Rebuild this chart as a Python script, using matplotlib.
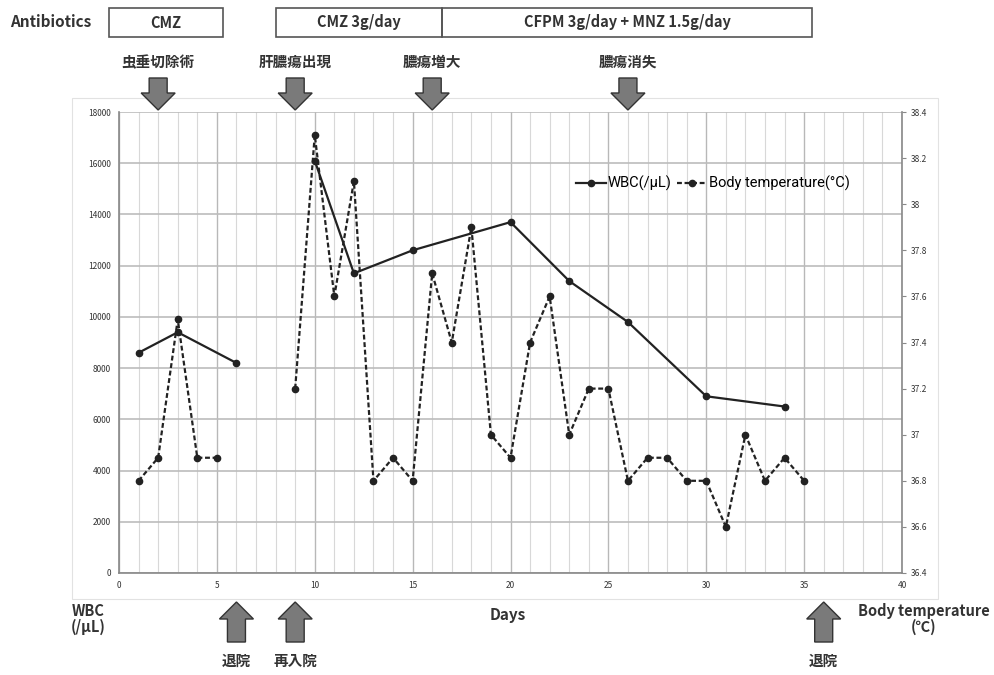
import numpy as np
import matplotlib.pyplot as plt
from matplotlib.patches import Rectangle, Polygon

plt.rcParams['font.family'] = ['Noto Sans CJK JP', 'DejaVu Sans']

# データ (NaN = 測定なし、線を切る)
wbc_days = [1, 3, 6, 8, 10, 12, 15, 20, 23, 26, 30, 34]
wbc = [8600, 9400, 8200, np.nan, 16100, 11700, 12600, 13700, 11400, 9800, 6900, 6500]

bt_days = list(range(1, 36))
bt = [36.8, 36.9, 37.5, 36.9, 36.9, np.nan, np.nan, np.nan, 37.2, 38.3,
      37.6, 38.1, 36.8, 36.9, 36.8, 37.7, 37.4, 37.9, 37.0, 36.9,
      37.4, 37.6, 37.0, 37.2, 37.2, 36.8, 36.9, 36.9, 36.8, 36.8,
      36.6, 37.0, 36.8, 36.9, 36.8]

antibiotics = ['CMZ', 'CMZ 3g/day', 'CFPM 3g/day + MNZ 1.5g/day']
ab_start = [-0.5, 8.0, 16.5]
ab_end = [5.3, 16.5, 35.4]

top_events = ['虫垂切除術', '肝膿瘍出現', '膿瘍増大', '膿瘍消失']
top_days = [2, 9, 16, 26]
bottom_events = ['退院', '再入院', '退院']
bottom_days = [6, 9, 36]

W, H = 995, 675
fig = plt.figure(figsize=(W / 100, H / 100), dpi=100)

# 外枠 (Excel風のチャート枠)
frame = fig.add_axes([0, 0, 1, 1], zorder=-5)
frame.set_xlim(0, W)
frame.set_ylim(H, 0)
frame.axis('off')
frame.add_patch(Rectangle((72, 98), 866, 501, fill=False, ec='#e2e2e2', lw=0.8))

ax = fig.add_axes([119 / W, 1 - 573 / H, (902 - 119) / W, (573 - 112) / H])
ax2 = ax.twinx()

ax.set_xlim(0, 40)
ax.set_ylim(0, 18000)
ax.set_xticks(range(0, 41, 5))
ax.set_xticks(range(0, 41), minor=True)
ax.set_yticks(range(0, 18001, 2000))
ax.grid(which='major', axis='y', color='#bcbcbc', lw=1.2)
ax.grid(which='major', axis='x', color='#b8b8b8', lw=1.0)
ax.grid(which='minor', axis='x', color='#d8d8d8', lw=0.8)
ax.tick_params(which='both', length=0, labelsize=6, labelcolor='#333333', pad=6)
for s in ['top', 'right']:
    ax.spines[s].set_visible(False)
for s in ['left', 'bottom']:
    ax.spines[s].set_color('#888888')
    ax.spines[s].set_linewidth(1.2)

bt_ticks = np.round(np.arange(36.4, 38.41, 0.2), 1)
ax2.set_ylim(36.4, 38.4)
ax2.set_yticks(bt_ticks)
ax2.set_yticklabels([f'{v:g}' for v in bt_ticks])
ax2.tick_params(axis='y', length=3, color='#888888', labelsize=6, labelcolor='#333333', pad=3)
for s in ['top', 'left', 'bottom']:
    ax2.spines[s].set_visible(False)
ax2.spines['right'].set_color('#888888')
ax2.spines['right'].set_linewidth(1.2)

l1, = ax.plot(wbc_days, wbc, color='#222222', lw=1.6, marker='o', ms=4.5, zorder=5,
              label='WBC(/μL)')
l2, = ax2.plot(bt_days, bt, color='#222222', lw=1.6, ls=(0, (2.2, 1.2)), marker='o', ms=4.5,
               label='Body temperature(°C)')

ax.legend(handles=[l1, l2], loc='center right', bbox_to_anchor=(0.95, 0.845), ncol=2,
          frameon=False, handlelength=2.0, handletextpad=0.15, columnspacing=0.4,
          prop={'family': ['Roboto', 'DejaVu Sans'], 'size': 10.5})

# 注釈
ov = fig.add_axes([0, 0, 1, 1], zorder=10)
ov.set_xlim(0, W)
ov.set_ylim(H, 0)
ov.axis('off')


def day_px(d):
    return ax.transData.transform((d, 0))[0]


def block_arrow(xc, y_tail, y_tip):
    sw, hw = 9, 17
    direction = 1 if y_tip > y_tail else -1
    y_head = y_tip - direction * 17
    pts = [(xc - sw, y_tail), (xc + sw, y_tail), (xc + sw, y_head), (xc + hw, y_head),
           (xc, y_tip), (xc - hw, y_head), (xc - sw, y_head)]
    ov.add_patch(Polygon(pts, closed=True, fc='#7a7a7a', ec='#333333', lw=1.0))


ov.text(10, 22, 'Antibiotics', ha='left', va='center', fontsize=11, fontweight='bold',
        color='#333333')
for name, a, b in zip(antibiotics, ab_start, ab_end):
    x0, x1 = day_px(a), day_px(b)
    ov.add_patch(Rectangle((x0, 8), x1 - x0, 29, fill=False, ec='#555555', lw=1.2))
    ov.text((x0 + x1) / 2, 22.5, name, ha='center', va='center', fontsize=10.5,
            fontweight='bold', color='#333333')

for name, d in zip(top_events, top_days):
    xc = day_px(d)
    ov.text(xc, 62, name, ha='center', va='center', fontsize=10.5, fontweight='bold',
            color='#333333')
    block_arrow(xc, 78, 110)

for name, d in zip(bottom_events, bottom_days):
    xc = day_px(d)
    block_arrow(xc, 642, 602)
    ov.text(xc, 661, name, ha='center', va='center', fontsize=10.5, fontweight='bold',
            color='#333333')

ov.text(88, 619, 'WBC\n(/μL)', ha='center', va='center', fontsize=10.5, fontweight='bold',
        color='#333333', linespacing=1.0)
ov.text(508, 615, 'Days', ha='center', va='center', fontsize=11, fontweight='bold',
        color='#333333')
ov.text(924, 619, 'Body temperature\n(℃)', ha='center', va='center', fontsize=10.5,
        fontweight='bold', color='#333333', linespacing=1.0)

fig.savefig('out.png', dpi=100)
